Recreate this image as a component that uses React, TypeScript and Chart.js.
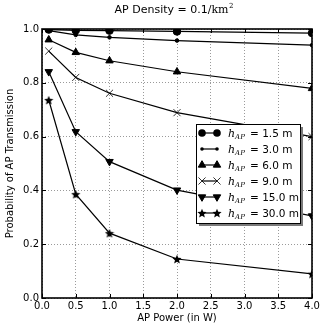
import { useEffect, useRef } from "react";
import { Chart, registerables } from "chart.js";

Chart.register(...registerables);

const powers = [0.1, 0.5, 1.0, 2.0, 4.0];
const heightLabels = ["1.5", "3.0", "6.0", "9.0", "15.0", "30.0"];
const h1_5 = [0.998, 0.995, 0.994, 0.991, 0.985];
const h3_0 = [0.994, 0.978, 0.969, 0.957, 0.94];
const h6_0 = [0.96, 0.913, 0.882, 0.841, 0.779];
const h9_0 = [0.918, 0.82, 0.761, 0.689, 0.6];
const h15_0 = [0.841, 0.618, 0.507, 0.401, 0.305];
const h30_0 = [0.736, 0.386, 0.241, 0.145, 0.09];
const xTickValues = [0, 0.5, 1.0, 1.5, 2.0, 2.5, 3.0, 3.5, 4.0];
const yTickValues = [0, 0.2, 0.4, 0.6, 0.8, 1.0];
const titleMain = "AP Density = 0.1/";
const titleUnit = "km";
const titleSup = "2";
const xTitle = "AP Power (in W)";
const yTitle = "Probability of AP Transmission";

function makeStar(size: number): HTMLCanvasElement {
  const c = document.createElement("canvas");
  c.width = size;
  c.height = size;
  const ctx = c.getContext("2d")!;
  const cx = size / 2, cy = size / 2 + 0.5;
  const R = size / 2 - 0.2, r = R * 0.45;
  ctx.beginPath();
  for (let i = 0; i < 10; i++) {
    const a = -Math.PI / 2 + (i * Math.PI) / 5;
    const rad = i % 2 === 0 ? R : r;
    const x = cx + rad * Math.cos(a), y = cy + rad * Math.sin(a);
    if (i === 0) ctx.moveTo(x, y);
    else ctx.lineTo(x, y);
  }
  ctx.closePath();
  ctx.fillStyle = "#000";
  ctx.fill();
  return c;
}

type Marker = { style: any; radius: number; rotation: number };

function drawMarker(ctx: CanvasRenderingContext2D, m: Marker, x: number, y: number) {
  ctx.save();
  ctx.fillStyle = "#000";
  ctx.strokeStyle = "#000";
  ctx.lineWidth = 1;
  const r = m.radius;
  if (m.style === "circle") {
    ctx.beginPath();
    ctx.arc(x, y, r, 0, Math.PI * 2);
    ctx.fill();
  } else if (m.style === "triangle") {
    ctx.translate(x, y);
    ctx.rotate((m.rotation * Math.PI) / 180);
    ctx.beginPath();
    const a = Math.PI / 6;
    ctx.moveTo(0, -r);
    ctx.lineTo(r * Math.cos(a), r * Math.sin(a));
    ctx.lineTo(-r * Math.cos(a), r * Math.sin(a));
    ctx.closePath();
    ctx.fill();
    ctx.stroke();
  } else if (m.style === "crossRot") {
    const d = r * 0.7071;
    ctx.lineWidth = 0.8;
    ctx.beginPath();
    ctx.moveTo(x - d, y - d);
    ctx.lineTo(x + d, y + d);
    ctx.moveTo(x - d, y + d);
    ctx.lineTo(x + d, y - d);
    ctx.stroke();
  } else if (m.style instanceof HTMLCanvasElement) {
    ctx.drawImage(m.style, Math.round(x - m.style.width / 2), Math.round(y - m.style.height / 2));
  }
  ctx.restore();
}

export default function App() {
  const ref = useRef<HTMLCanvasElement | null>(null);

  useEffect(() => {
    document.body.style.margin = "0";
    const star = makeStar(10);
    const series = [h1_5, h3_0, h6_0, h9_0, h15_0, h30_0];
    const markers: Marker[] = [
      { style: "circle", radius: 3.8, rotation: 0 },
      { style: "circle", radius: 1.8, rotation: 0 },
      { style: "triangle", radius: 4.3, rotation: 0 },
      { style: "crossRot", radius: 5, rotation: 0 },
      { style: "triangle", radius: 4.3, rotation: 180 },
      { style: star, radius: 5, rotation: 0 },
    ];

    const datasets = series.map((vals, i) => ({
      label: heightLabels[i],
      data: vals.map((v, j) => ({ x: powers[j], y: v })),
      borderColor: "#000",
      backgroundColor: "#000",
      borderWidth: 1.2,
      pointStyle: markers[i].style,
      pointRadius: markers[i].radius,
      pointRotation: markers[i].rotation,
      pointBorderWidth: markers[i].style === "crossRot" ? 0.8 : 1,
      pointBorderColor: "#000",
      pointBackgroundColor: "#000",
      tension: 0,
      clip: 0,
    }));

    const deco = {
      id: "deco",
      afterDraw(chart: any) {
        const ctx: CanvasRenderingContext2D = chart.ctx;
        const a = chart.chartArea;
        const xs = chart.scales.x;
        const ys = chart.scales.y;
        ctx.save();
        // inward ticks
        ctx.strokeStyle = "#000";
        ctx.lineWidth = 1;
        ctx.beginPath();
        xTickValues.forEach((v) => {
          const px = Math.round(xs.getPixelForValue(v)) + 0.5;
          ctx.moveTo(px, a.bottom);
          ctx.lineTo(px, a.bottom - 4);
          ctx.moveTo(px, a.top);
          ctx.lineTo(px, a.top + 4);
        });
        yTickValues.forEach((v) => {
          const py = Math.round(ys.getPixelForValue(v)) + 0.5;
          ctx.moveTo(a.left, py);
          ctx.lineTo(a.left + 4, py);
          ctx.moveTo(a.right, py);
          ctx.lineTo(a.right - 4, py);
        });
        ctx.stroke();
        // frame
        ctx.lineWidth = 1.6;
        ctx.strokeRect(a.left, a.top, a.right - a.left, a.bottom - a.top);

        // title
        ctx.fillStyle = "#000";
        ctx.textBaseline = "alphabetic";
        const fMain = "11px 'DejaVu Sans'";
        const fUnit = "11px 'DejaVu Serif'";
        const fSup = "7px 'DejaVu Serif'";
        ctx.font = fMain;
        const w1 = ctx.measureText(titleMain).width;
        ctx.font = fUnit;
        const w2 = ctx.measureText(titleUnit).width;
        ctx.font = fSup;
        const w3 = ctx.measureText(titleSup).width;
        const tw = w1 + w2 + w3 + 0.5;
        let tx = (a.left + a.right) / 2 - 3 - tw / 2;
        const ty = 13;
        ctx.textAlign = "left";
        ctx.font = fMain;
        ctx.fillText(titleMain, tx, ty);
        tx += w1;
        ctx.font = fUnit;
        ctx.fillText(titleUnit, tx, ty);
        tx += w2 + 0.5;
        ctx.font = fSup;
        ctx.fillText(titleSup, tx, ty - 5);

        // axis titles
        ctx.font = "10px 'DejaVu Sans'";
        ctx.textAlign = "center";
        ctx.textBaseline = "middle";
        ctx.fillText(xTitle, (a.left + a.right) / 2, 318);
        ctx.save();
        ctx.translate(10, (a.top + a.bottom) / 2);
        ctx.rotate(-Math.PI / 2);
        ctx.fillText(yTitle, 0, 0);
        ctx.restore();

        // legend
        const bx = 196, by = 124, bw = 104, bh = 99;
        ctx.fillStyle = "#7a7a7a";
        ctx.fillRect(bx + 3, by + 3, bw, bh);
        ctx.fillStyle = "#fff";
        ctx.fillRect(bx, by, bw, bh);
        ctx.strokeStyle = "#000";
        ctx.lineWidth = 1;
        ctx.strokeRect(bx + 0.5, by + 0.5, bw, bh);
        heightLabels.forEach((lab, i) => {
          const cy = 133 + i * 16;
          ctx.strokeStyle = "#000";
          ctx.lineWidth = 1.2;
          ctx.beginPath();
          ctx.moveTo(202, cy);
          ctx.lineTo(217, cy);
          ctx.stroke();
          drawMarker(ctx, markers[i], 202, cy);
          drawMarker(ctx, markers[i], 217, cy);
          ctx.fillStyle = "#000";
          ctx.textAlign = "left";
          ctx.textBaseline = "alphabetic";
          let lx = 228;
          const base = cy + 3.5;
          ctx.font = "italic 11px 'DejaVu Serif'";
          ctx.fillText("h", lx, base);
          lx += ctx.measureText("h").width;
          ctx.font = "italic 7px 'DejaVu Serif'";
          ctx.fillText("AP", lx, base + 2.5);
          ctx.font = "10.5px 'DejaVu Sans'";
          ctx.fillText("= " + lab + " m", 250, base);
        });
        ctx.restore();
      },
    };

    const chart = new Chart(ref.current!, {
      type: "line",
      data: { datasets },
      options: {
        animation: false,
        responsive: false,
        devicePixelRatio: 1,
        layout: { padding: { left: 0, right: 10, top: 29, bottom: 0 } },
        plugins: { legend: { display: false }, title: { display: false }, tooltip: { enabled: false } },
        scales: {
          x: {
            type: "linear",
            min: 0,
            max: 4,
            afterFit: (s: any) => { s.height = 29; },
            afterBuildTicks: (s: any) => { s.ticks = xTickValues.map((v) => ({ value: v })); },
            ticks: {
              color: "#000",
              font: { family: "'DejaVu Sans'", size: 10 },
              padding: 2,
              maxRotation: 0,
              autoSkip: false,
              callback: (v: any) => Number(v).toFixed(1),
            },
            grid: { color: "#9a9a9a", lineWidth: 1, drawTicks: false },
            border: { display: false, dash: [1, 2] },
          },
          y: {
            type: "linear",
            min: 0,
            max: 1,
            afterFit: (s: any) => { s.width = 42; },
            afterBuildTicks: (s: any) => { s.ticks = yTickValues.map((v) => ({ value: v })); },
            ticks: {
              color: "#000",
              font: { family: "'DejaVu Sans'", size: 10 },
              padding: 3,
              autoSkip: false,
              callback: (v: any) => Number(v).toFixed(1),
            },
            grid: { color: "#9a9a9a", lineWidth: 1, drawTicks: false },
            border: { display: false, dash: [1, 2] },
          },
        },
      },
      plugins: [deco],
    } as any);
    return () => chart.destroy();
  }, []);

  return (
    <div style={{ width: 322, height: 327 }}>
      <canvas ref={ref} width={322} height={327} style={{ display: "block", width: 322, height: 327 }} />
    </div>
  );
}
